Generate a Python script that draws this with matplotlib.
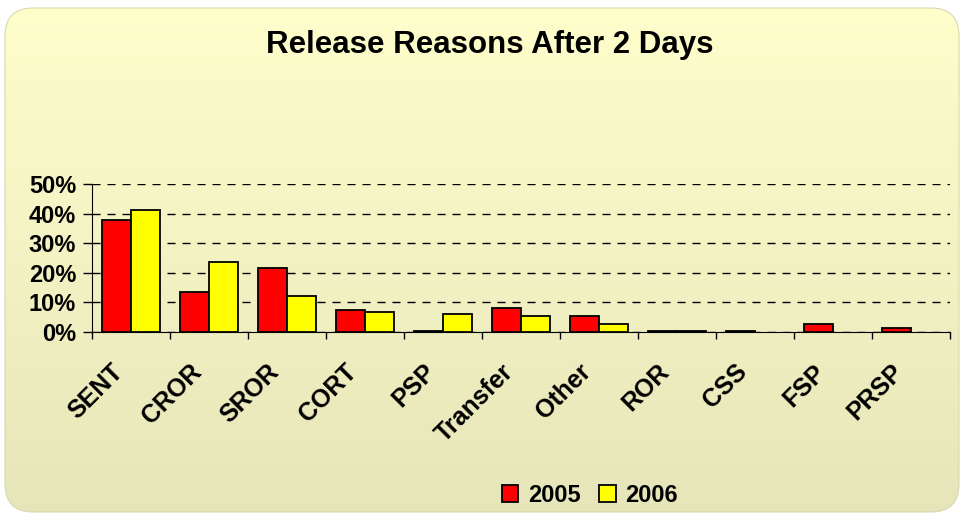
import numpy as np
import matplotlib

matplotlib.use("Agg")
import matplotlib.pyplot as plt
from matplotlib.patches import FancyBboxPatch
from matplotlib.transforms import ScaledTranslation

plt.rcParams["font.family"] = ["Liberation Sans", "DejaVu Sans"]
plt.rcParams["font.weight"] = "bold"

categories = ["SENT", "CROR", "SROR", "CORT", "PSP", "Transfer", "Other",
              "ROR", "CSS", "FSP", "PRSP"]
y2005 = [38.0, 13.4, 21.5, 7.4, 0.5, 8.2, 5.4, 0.5, 0.5, 2.8, 1.4]
# no 2006 bar drawn for CSS, FSP, PRSP
y2006 = [41.1, 23.5, 12.1, 6.6, 6.1, 5.4, 2.7, 0.5, None, None, None]

W, H = 964, 514
fig = plt.figure(figsize=(W / 100, H / 100), dpi=100)
fig.patch.set_facecolor("white")

# --- rounded gradient background ---
bg = fig.add_axes([0, 0, 1, 1])
bg.set_xlim(0, W)
bg.set_ylim(0, H)
bg.axis("off")
grad = np.linspace(0, 1, 256).reshape(-1, 1)
top = np.array([1.0, 1.0, 0.80])
bot = np.array([0.90, 0.90, 0.73])
img = top + (bot - top) * grad[:, :, None]
im = bg.imshow(img, extent=(0, W, 0, H), aspect="auto", origin="upper")
box = FancyBboxPatch((5, 2), W - 10, H - 10,
                     boxstyle="round,pad=0,rounding_size=28",
                     transform=bg.transData, facecolor="none",
                     edgecolor="#d8d8b0", linewidth=0.8)
bg.add_patch(box)
im.set_clip_path(box)

# --- main chart ---
ax = fig.add_axes([92 / W, 1 - 332 / H, (950 - 92) / W, (332 - 184) / H])
ax.patch.set_alpha(0)
x = np.arange(len(categories))
bw = 0.375
h2006 = np.array([np.nan if v is None else v for v in y2006])
ax.bar(x - bw / 2, y2005, bw, color="#ff0000", edgecolor="black",
       linewidth=1.3, label="2005", zorder=3)
ax.bar(x + bw / 2, h2006, bw, color="#ffff00", edgecolor="black",
       linewidth=1.3, label="2006", zorder=3)

ax.set_xlim(-0.5, len(categories) - 0.5)
ax.set_ylim(0, 50)
ax.set_yticks(range(0, 51, 10))
ax.set_yticklabels([f"{v}%" for v in range(0, 51, 10)], fontsize=17,
                   fontweight="bold")
ax.yaxis.grid(True, linestyle=(0, (5.8, 5)), color="black", linewidth=1.0,
              zorder=0)
ax.set_xticks(np.arange(len(categories) + 1) - 0.5)
ax.set_xticklabels([])
ax.set_xticks(x, minor=True)
ax.set_xticklabels(categories, minor=True, rotation=45, ha="right",
                   va="top", rotation_mode="anchor", fontsize=18,
                   fontweight="bold")
ax.tick_params(axis="x", which="minor", length=0, pad=20)
ax.tick_params(axis="x", which="major", length=5, width=1, direction="out")
ax.tick_params(axis="y", length=6.5, width=1, direction="out", pad=5)
# nudge the slanted labels left, as in the original
shift = ScaledTranslation(-20 / 100, 0, fig.dpi_scale_trans)
for lab in ax.get_xticklabels(minor=True):
    lab.set_transform(lab.get_transform() + shift)
for s in ["top", "right"]:
    ax.spines[s].set_visible(False)

fig.text(490 / W, 1 - 45 / H, "Release Reasons After 2 Days", ha="center",
         va="center", fontsize=22.5, fontweight="bold")

fig.legend(loc="center", bbox_to_anchor=(590 / W, 1 - 495 / H), ncol=2,
           frameon=False, handlelength=0.7, handleheight=0.7,
           handletextpad=0.4, columnspacing=0.8,
           prop={"weight": "bold", "size": 17})

fig.savefig("out.png", dpi=100)
